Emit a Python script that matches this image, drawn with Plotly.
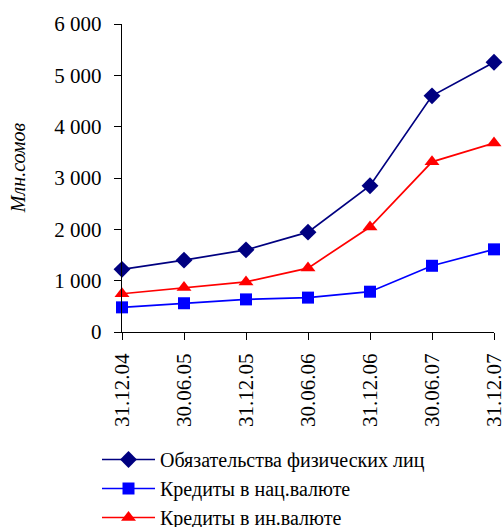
import plotly.graph_objects as go

# Reporting dates
dates = ["31.12.04", "30.06.05", "31.12.05", "30.06.06", "31.12.06", "30.06.07", "31.12.07"]

# Values, mln soms
liabilities = [1220, 1400, 1600, 1945, 2850, 4600, 5255]
loans_national = [480, 560, 635, 670, 785, 1290, 1610]
loans_foreign = [745, 865, 975, 1245, 2045, 3315, 3680]

series = [
    ("Обязательства физических лиц", liabilities, "#000080", "diamond", 13),
    ("Кредиты в нац.валюте", loans_national, "#0000FF", "square", 12),
    ("Кредиты в ин.валюте", loans_foreign, "#FF0000", "triangle-up", 13),
]

fig = go.Figure()
for name, vals, color, symbol, size in series:
    fig.add_trace(go.Scatter(
        x=list(range(len(dates))), y=vals, name=name, mode="lines+markers",
        line=dict(color=color, width=1.7),
        marker=dict(symbol=symbol, size=size, color=color),
        cliponaxis=False,
    ))

font_family = "Liberation Serif"

fig.update_layout(
    width=503, height=527,
    margin=dict(l=122, r=9, t=24, b=195, autoexpand=False),
    paper_bgcolor="white", plot_bgcolor="white",
    font=dict(family=font_family, size=22, color="black"),
    separators=", ",
    showlegend=True,
    legend=dict(
        x=97 / 503, y=1 - 440 / 527, xref="container", yref="container",
        xanchor="left", yanchor="top",
        font=dict(size=20, family=font_family), itemwidth=53, tracegroupgap=0,
        bgcolor="rgba(0,0,0,0)",
    ),
    xaxis=dict(
        range=[0, 6], tickmode="array", tickvals=list(range(len(dates))), ticktext=dates,
        tickangle=-90, ticks="outside", ticklen=7, tickwidth=1.4, tickcolor="black",
        showline=True, linecolor="black", linewidth=1.4, showgrid=False, zeroline=False,
        tickfont=dict(size=21, family=font_family), automargin=False,
        ticklabeloverflow="allow", ticklabelstandoff=5,
    ),
    yaxis=dict(
        range=[0, 6000], dtick=1000, tickformat=",d", ticks="outside", ticklen=7,
        tickwidth=1.4, tickcolor="black", showline=True, linecolor="black", linewidth=1.4,
        showgrid=False, zeroline=False, tickfont=dict(size=21, family=font_family),
        automargin=False, ticklabelstandoff=8,
    ),
    annotations=[dict(
        text="<i>Млн.сомов</i>", xref="paper", yref="paper", x=-104 / 372, y=0.532,
        xanchor="center", yanchor="middle", textangle=-90, showarrow=False,
        font=dict(size=20, family=font_family),
    )],
)

fig.write_html("out.html")
